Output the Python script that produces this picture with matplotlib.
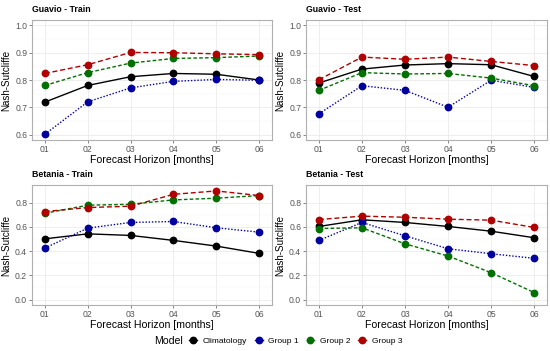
import matplotlib
matplotlib.use("Agg")
import matplotlib.pyplot as plt
from matplotlib.lines import Line2D
import numpy as np

plt.rcParams["font.family"] = ["Liberation Sans", "DejaVu Sans"]
plt.rcParams["lines.scale_dashes"] = False

horizons = ["01", "02", "03", "04", "05", "06"]
models = ["Climatology", "Group 1", "Group 2", "Group 3"]

guavio_train = {
    "Climatology": [0.719, 0.780, 0.812, 0.824, 0.821, 0.800],
    "Group 1": [0.601, 0.720, 0.771, 0.795, 0.802, 0.799],
    "Group 2": [0.780, 0.827, 0.862, 0.879, 0.882, 0.888],
    "Group 3": [0.824, 0.856, 0.901, 0.900, 0.896, 0.893],
}
guavio_test = {
    "Climatology": [0.789, 0.840, 0.855, 0.860, 0.856, 0.813],
    "Group 1": [0.676, 0.779, 0.762, 0.700, 0.799, 0.773],
    "Group 2": [0.762, 0.827, 0.822, 0.824, 0.807, 0.779],
    "Group 3": [0.801, 0.884, 0.876, 0.884, 0.868, 0.853],
}
betania_train = {
    "Climatology": [0.501, 0.542, 0.529, 0.488, 0.441, 0.381],
    "Group 1": [0.425, 0.589, 0.636, 0.644, 0.592, 0.556],
    "Group 2": [0.712, 0.778, 0.786, 0.822, 0.836, 0.858],
    "Group 3": [0.726, 0.759, 0.770, 0.868, 0.896, 0.858],
}
betania_test = {
    "Climatology": [0.603, 0.658, 0.636, 0.603, 0.564, 0.510],
    "Group 1": [0.488, 0.636, 0.526, 0.419, 0.378, 0.340],
    "Group 2": [0.586, 0.592, 0.460, 0.359, 0.222, 0.058],
    "Group 3": [0.660, 0.688, 0.679, 0.663, 0.655, 0.595],
}

colors = {"Climatology": "#000000", "Group 1": "#0000A0",
          "Group 2": "#007000", "Group 3": "#B00000"}
styles = {"Climatology": "-", "Group 1": (0, (1.0, 1.3)),
          "Group 2": (0, (2.6, 1.6)), "Group 3": (0, (3.6, 2.0))}

W, H = 550, 351
fig = plt.figure(figsize=(W / 100, H / 100), dpi=100)


def panel(x0, y0, x1, y1, data, title, ylim, major, minor):
    ax = fig.add_axes([x0 / W, 1 - y1 / H, (x1 - x0) / W, (y1 - y0) / H])
    x = np.arange(len(horizons))
    for m in models:
        ax.plot(x, data[m], color=colors[m], linestyle=styles[m], lw=1.0,
                marker="o", ms=4.6, zorder=3)
    lo, hi = ylim
    pad = (hi - lo) * 0.05
    ax.set_ylim(lo - pad, hi + pad)
    ax.set_xlim(-0.3, 5.3)
    ax.set_xticks(x)
    ax.set_xticklabels(horizons)
    ax.set_yticks(major)
    ax.set_yticks(minor, minor=True)
    ax.grid(True, which="major", color="#EBEBEB", lw=0.6, zorder=0)
    ax.grid(True, which="minor", axis="y", color="#F4F4F4", lw=0.35, zorder=0)
    ax.set_axisbelow(True)
    for s in ax.spines.values():
        s.set_color("#B0B0B0")
        s.set_linewidth(0.8)
    ax.tick_params(which="major", length=2, width=0.5, color="#555555",
                   labelsize=6.2, labelcolor="#555555", pad=1.5)
    ax.tick_params(which="minor", length=0)
    ax.set_xlabel("Forecast Horizon [months]", fontsize=7.6, labelpad=1)
    ax.set_ylabel("Nash-Sutcliffe", fontsize=7.1, labelpad=2.5)
    ax.set_title(title, fontsize=6.3, fontweight="bold", loc="left",
                 x=0.0, pad=6)
    return ax


g_major = [0.6, 0.7, 0.8, 0.9, 1.0]
g_minor = [0.65, 0.75, 0.85, 0.95]
b_major = [0.0, 0.2, 0.4, 0.6, 0.8]
b_minor = [0.1, 0.3, 0.5, 0.7]

panel(32, 20, 272, 140, guavio_train, "Guavio - Train", (0.6, 1.0), g_major, g_minor)
panel(306, 20, 547, 140, guavio_test, "Guavio - Test", (0.6, 1.0), g_major, g_minor)
panel(32, 185, 272, 305, betania_train, "Betania - Train", (0.0, 0.9), b_major, b_minor)
panel(306, 185, 547, 305, betania_test, "Betania - Test", (0.0, 0.9), b_major, b_minor)

handles = [Line2D([], [], color=colors[m], lw=1.0, marker="o", ms=4.6) for m in models]
fig.text(154 / W, 1 - 341 / H, "Model", fontsize=7.6, va="center", ha="left")
fig.legend(handles, models, loc="center left", bbox_to_anchor=(189 / W, 1 - 341 / H),
           ncol=4, frameon=False, fontsize=6.0, handlelength=0.95,
           handletextpad=0.7, columnspacing=0.9, borderpad=0, borderaxespad=0)

fig.savefig("out.png", dpi=100)
